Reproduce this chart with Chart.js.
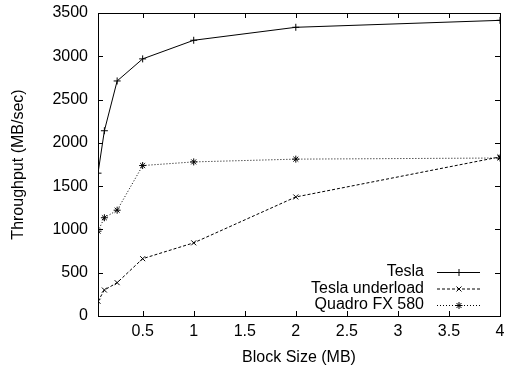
<!DOCTYPE html>
<html>
<head>
<meta charset="utf-8">
<script src="https://cdn.jsdelivr.net/npm/chart.js@4"></script>
<style>
  html, body { margin: 0; padding: 0; background: #fff; }
  #wrap { width: 511px; height: 367px; }
</style>
</head>
<body>
<div id="wrap"><canvas id="throughputChart" width="511" height="367"></canvas></div>
<script>
// Block sizes (MB) and throughput (MB/sec)
const blockSizes = [0.0625, 0.125, 0.25, 0.5, 1, 2, 4];
const tesla = [1650, 2140, 2715, 2970, 3185, 3335, 3415];
const teslaUnderload = [170, 300, 385, 662, 845, 1375, 1838];
const quadro = [980, 1135, 1222, 1738, 1780, 1812, 1825];
const xTicks = [0.5, 1, 1.5, 2, 2.5, 3, 3.5, 4];
const yTicks = [0, 500, 1000, 1500, 2000, 2500, 3000, 3500];

const FONT = { family: 'Liberation Sans, Arial, sans-serif', size: 16 };

function toPoints(vals) {
    return blockSizes.map((x, i) => ({ x: x, y: vals[i] }));
}

// gnuplot style frame, inward ticks on all four sides
const framePlugin = {
    id: 'frame',
    afterDatasetsDraw(chart) {
        const { ctx, chartArea: a, scales } = chart;
        ctx.save();
        ctx.strokeStyle = '#000';
        ctx.lineWidth = 1;
        ctx.beginPath();
        scales.x.ticks.forEach(t => {
            const px = Math.round(scales.x.getPixelForValue(t.value)) + 0.5;
            ctx.moveTo(px, a.bottom); ctx.lineTo(px, a.bottom - 5);
            ctx.moveTo(px, a.top); ctx.lineTo(px, a.top + 5);
        });
        scales.y.ticks.forEach(t => {
            const py = Math.round(scales.y.getPixelForValue(t.value)) + 0.5;
            ctx.moveTo(a.left, py); ctx.lineTo(a.left + 5, py);
            ctx.moveTo(a.right, py); ctx.lineTo(a.right - 5, py);
        });
        ctx.stroke();
        ctx.strokeRect(Math.round(a.left) + 0.5, Math.round(a.top) + 0.5,
            Math.round(a.right - a.left), Math.round(a.bottom - a.top));
        ctx.restore();
    }
};

// legend inside bottom right: text right aligned, then sample line with marker
const keyPlugin = {
    id: 'key',
    afterDraw(chart) {
        const { ctx, chartArea: a } = chart;
        const n = chart.data.datasets.length;
        ctx.save();
        ctx.font = FONT.size + 'px ' + FONT.family;
        ctx.textAlign = 'right';
        ctx.textBaseline = 'middle';
        ctx.fillStyle = '#000';
        chart.data.datasets.forEach((ds, i) => {
            const y = a.bottom - 11 - (n - 1 - i) * 16.5;
            ctx.fillText(ds.label, a.right - 76, y);
            ctx.strokeStyle = '#000';
            ctx.lineWidth = 1;
            ctx.setLineDash(ds.borderDash || []);
            ctx.beginPath();
            ctx.moveTo(a.right - 63, y + 0.5);
            ctx.lineTo(a.right - 20, y + 0.5);
            ctx.stroke();
            ctx.setLineDash([]);
            if (Chart.helpers && Chart.helpers.drawPoint) {
                Chart.helpers.drawPoint(ctx, {
                    pointStyle: ds.pointStyle, radius: ds.pointRadius,
                    rotation: 0, borderWidth: 1
                }, a.right - 41, y + 0.5);
            }
        });
        ctx.restore();
    }
};

const ctxThroughput = document.getElementById('throughputChart').getContext('2d');
new Chart(ctxThroughput, {
    type: 'line',
    data: {
        datasets: [{
            label: 'Tesla',
            data: toPoints(tesla),
            borderColor: '#000',
            borderWidth: 1,
            pointStyle: 'cross',
            pointRadius: 3.5,
            pointBorderColor: '#000',
            pointBorderWidth: 1,
            fill: false,
            tension: 0
        }, {
            label: 'Tesla underload',
            data: toPoints(teslaUnderload),
            borderColor: '#000',
            borderWidth: 1,
            borderDash: [3, 2],
            pointStyle: 'crossRot',
            pointRadius: 3.5,
            pointBorderColor: '#000',
            pointBorderWidth: 1,
            fill: false,
            tension: 0
        }, {
            label: 'Quadro FX 580',
            data: toPoints(quadro),
            borderColor: '#000',
            borderWidth: 1,
            borderDash: [1, 2],
            pointStyle: 'star',
            pointRadius: 3.5,
            pointBorderColor: '#000',
            pointBorderWidth: 1,
            fill: false,
            tension: 0
        }]
    },
    options: {
        responsive: false,
        animation: false,
        devicePixelRatio: 1,
        layout: { padding: { left: 0, right: 11, top: 13, bottom: 0 } },
        plugins: {
            legend: { display: false },
            tooltip: { enabled: false }
        },
        scales: {
            x: {
                type: 'linear',
                min: 0.0625,
                max: 4,
                afterBuildTicks: axis => { axis.ticks = xTicks.map(v => ({ value: v })); },
                afterFit: axis => { axis.height = 51; axis.paddingLeft = 0; axis.paddingRight = 0; },
                grid: { display: false, drawTicks: false },
                border: { display: false },
                ticks: { color: '#000', font: FONT, padding: 6, maxRotation: 0, callback: v => String(v) },
                title: {
                    display: true, text: 'Block Size (MB)', color: '#000',
                    font: FONT, padding: { top: 0, bottom: 0 }
                }
            },
            y: {
                min: 0,
                max: 3500,
                afterBuildTicks: axis => { axis.ticks = yTicks.map(v => ({ value: v })); },
                afterFit: axis => { axis.width = 98; axis.paddingTop = 0; axis.paddingBottom = 0; },
                grid: { display: false, drawTicks: false },
                border: { display: false },
                ticks: { color: '#000', font: FONT, padding: 10, callback: v => String(v) },
                title: {
                    display: true, text: 'Throughput (MB/sec)', color: '#000',
                    font: FONT, padding: { top: 9, bottom: 0 }
                }
            }
        }
    },
    plugins: [framePlugin, keyPlugin]
});
</script>
</body>
</html>
